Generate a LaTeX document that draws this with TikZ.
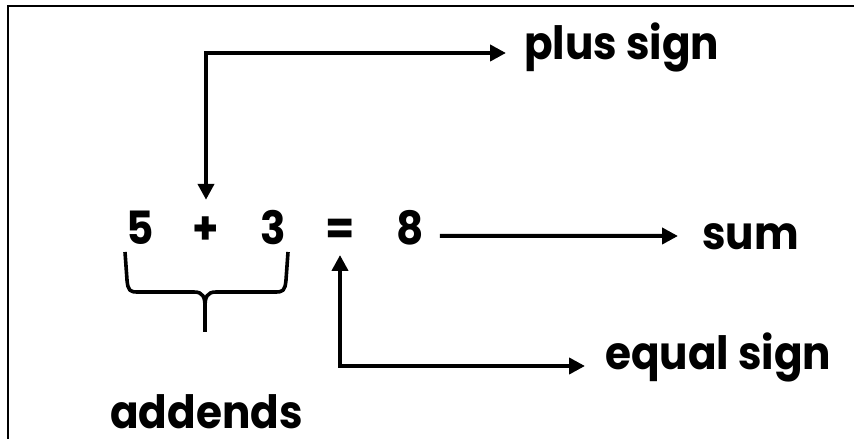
\documentclass[tikz,border=0pt]{standalone}
\usepackage{fontspec}
\setmainfont{Poppins}[FakeStretch=0.92]
\usetikzlibrary{arrows.meta}
\tikzset{
  % the digits and signs of the sum
  eqn/.style   = {font=\fontsize{46}{50}\selectfont\bfseries, inner sep=0pt,
                  text height=32bp, text depth=0pt, anchor=base},
  % a word that names a part
  lbl/.style   = {font=\fontsize{46}{50}\selectfont\bfseries, inner sep=0pt,
                  text depth=0pt, anchor=base west},
  % a pointer from a part to its name
  conn/.style  = {-{Triangle[length=16bp,width=16bp]}, line width=4bp},
  % the same, with a head at both ends
  conn2/.style = {{Triangle[length=16bp,width=16bp]}-{Triangle[length=16bp,width=16bp]},
                  line width=4bp},
  % the curly brace under the addends
  brc/.style   = {line width=3.6bp, line join=round},
}
\begin{document}
\begin{tikzpicture}[x=1bp, y=-1bp]
  \useasboundingbox (0,0) rectangle (854,439);
  \draw[line width=2.4bp] (8,439) -- (8,6) -- (854,6);
  % the sum itself
  \node[eqn] (n5)   at (140,245) {5};
  \node[eqn] (plus) at (206,245) {+};
  \node[eqn] (n3)   at (273,245) {3};
  \node[eqn] (eq)   at (340,245) {=};
  \node[eqn] (n8)   at (410,245) {8};
  % the names
  \node[lbl] (plussign)  at (524,60)  {plus sign};
  \node[lbl] (sum)       at (702,250) {sum};
  \node[lbl] (equalsign) at (605,370) {equal sign};
  \node[lbl] (addends)   at (110,428) {addends};
  % pointers
  \draw[conn2, shorten <=13bp, shorten >=18bp]
    (plus.north) |- ([yshift=7bp]plussign.base west);
  \draw[conn, shorten <=16bp, shorten >=24bp]
    ([yshift=9bp]n8.base east) -- ([yshift=14bp]sum.base west);
  \draw[conn2, shorten <=10bp, shorten >=20bp]
    (eq.base) |- ([yshift=4bp]equalsign.base west);
  % brace
  \draw[brc] (125,252) -- (127,280) .. controls (128,291) and (130,292) .. (138,292)
    -- (194,292) .. controls (203,292) and (205,297) .. (205,307) -- (205,332);
  \draw[brc] (288,252) -- (286,280) .. controls (285,291) and (283,292) .. (275,292)
    -- (216,292) .. controls (207,292) and (205,297) .. (205,307);
\end{tikzpicture}
\end{document}
